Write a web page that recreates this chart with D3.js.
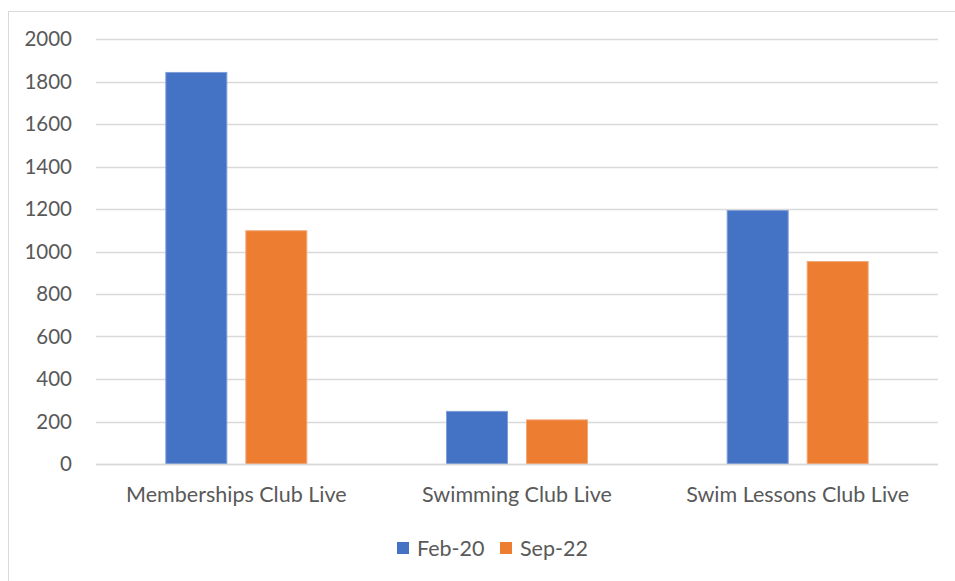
<!DOCTYPE html>
<html><head><meta charset="utf-8">
<script src="https://cdn.jsdelivr.net/npm/d3@7"></script>
<style>body{margin:0;background:#fff;} text{font-family:Lato, "Open Sans", sans-serif;fill:#595959;}</style>
</head><body>
<svg id="c" width="955" height="581"></svg>
<script>
const categories = ["Memberships Club Live", "Swimming Club Live", "Swim Lessons Club Live"];
const seriesNames = ["Feb-20", "Sep-22"];
const feb20 = [1845, 250, 1195];
const sep22 = [1100, 210, 955];
const yTicks = [0, 200, 400, 600, 800, 1000, 1200, 1400, 1600, 1800, 2000];
const colors = ["#4472C4", "#ED7D31"];
const strokes = ["#7f9fd8", "#f3a878"];

const svg = d3.select("#c");
svg.append("rect").attr("x", 8.5).attr("y", 11.5).attr("width", 960).attr("height", 580)
  .attr("fill", "#fff").attr("stroke", "#d9d9d9");

const m = {l: 96, r: 938, t: 39, b: 464};
const x = d3.scaleBand().domain(categories).range([m.l, m.r]);
const x1 = d3.scaleBand().domain(seriesNames).range([0, 142]).paddingInner(0.225);
const y = d3.scaleLinear().domain([0, 2000]).range([m.b, m.t]);

svg.append("g").selectAll("line").data(yTicks).join("line")
  .attr("x1", m.l).attr("x2", m.r)
  .attr("y1", d => Math.round(y(d)) + 0.5).attr("y2", d => Math.round(y(d)) + 0.5)
  .attr("stroke", "#d9d9d9").attr("stroke-width", 1.3);

svg.append("g").selectAll("text").data(yTicks).join("text")
  .attr("x", 72).attr("y", d => y(d)).attr("dy", "0.35em")
  .attr("text-anchor", "end").attr("font-size", 20.5).text(d => d);

const data = categories.map((c, i) => ({c, vals: [feb20[i], sep22[i]]}));
const g = svg.append("g").selectAll("g").data(data).join("g")
  .attr("transform", d => `translate(${x(d.c) + x.bandwidth()/2 - 71},0)`);
g.selectAll("rect").data(d => d.vals.map((v, j) => ({v, s: seriesNames[j], j}))).join("rect")
  .attr("x", d => x1(d.s) + 0.5).attr("width", x1.bandwidth() - 1)
  .attr("y", d => y(d.v) + 0.5).attr("height", d => y(0) - y(d.v) - 0.5)
  .attr("fill", d => colors[d.j]).attr("stroke", d => strokes[d.j]).attr("stroke-width", 1);

svg.append("line").attr("x1", m.l).attr("x2", m.r).attr("y1", m.b + 0.5).attr("y2", m.b + 0.5)
  .attr("stroke", "#d9d9d9").attr("stroke-width", 1.3);

svg.append("g").selectAll("text").data(categories).join("text")
  .attr("x", d => x(d) + x.bandwidth()/2).attr("y", 494).attr("dy", "0.35em")
  .attr("text-anchor", "middle").attr("font-size", 21.5).text(d => d);

const leg = svg.append("g").selectAll("g").data(seriesNames).join("g")
  .attr("transform", (d, i) => `translate(${[397, 500][i]},548)`);
leg.append("rect").attr("x", 0).attr("y", -6).attr("width", 12).attr("height", 12).attr("fill", (d, i) => colors[i]);
leg.append("text").attr("x", 20).attr("dy", "0.35em").attr("font-size", 21.5).text(d => d);
</script>
</body></html>
